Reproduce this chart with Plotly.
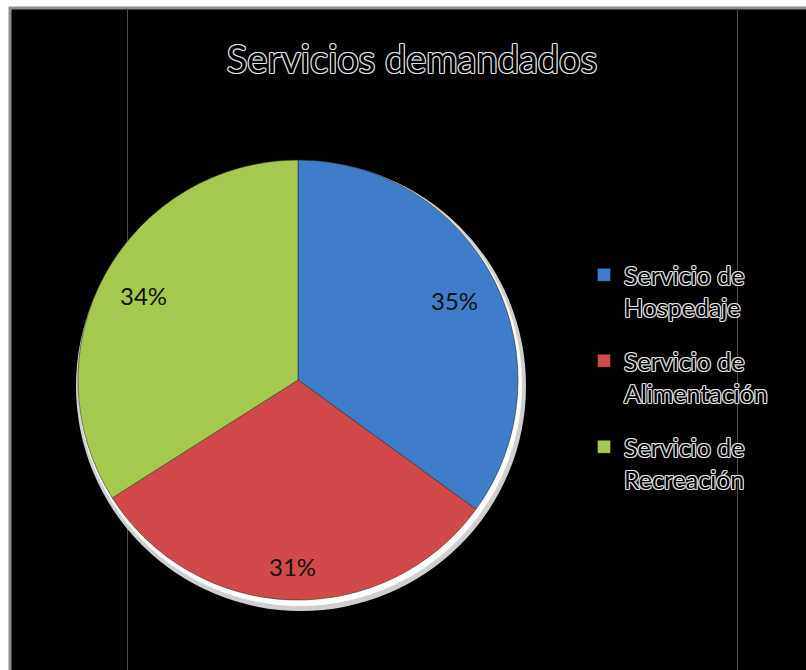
import math
import plotly.graph_objects as go

# Survey shares of requested services
categories = ["Servicio de<br>Hospedaje", "Servicio de<br>Alimentación", "Servicio de<br>Recreación"]
shares = [35, 31, 34]
colors = ["#3f7dca", "#d14a49", "#a5c84f"]

W, H = 806, 670
CX, CY, R = 298, 380, 220      # pie centre and radius in pixels
LABEL_R = [0.80, 0.85, 0.80]   # radial placement of each percentage label


def px(x):
    return x / W


def py(y):
    return 1 - y / H


outline = ("1px 0 0 #e6e6e6, -1px 0 0 #e6e6e6, 0 1px 0 #e6e6e6, 0 -1px 0 #e6e6e6, "
           "1px 1px 0 #bbb, -1px -1px 0 #bbb, 1px -1px 0 #bbb, -1px 1px 0 #bbb")

fig = go.Figure()
fig.add_trace(
    go.Pie(
        labels=categories,
        values=shares,
        sort=False,
        direction="clockwise",
        rotation=0,
        marker=dict(colors=colors, line=dict(color="rgba(40,40,20,0.55)", width=1)),
        textinfo="none",
        domain=dict(x=[px(CX - R), px(CX + R)], y=[py(CY + R), py(CY - R)]),
        hoverinfo="label+percent",
        showlegend=False,
    )
)

# legend entries, one group each so the entries can be spaced apart
for name, col in zip(categories, colors):
    fig.add_trace(
        go.Scatter(
            x=[None], y=[None], mode="markers", name=name, legendgroup=name,
            marker=dict(symbol="square", size=13, color=col,
                        line=dict(color="rgba(0,0,0,0.35)", width=1)),
        )
    )

# percentage labels placed on each slice's bisector
total = sum(shares)
annotations = []
acc = 0
for v, rf in zip(shares, LABEL_R):
    mid = (acc + v / 2) / total * 2 * math.pi
    acc += v
    tx = CX + rf * R * math.sin(mid)
    ty = CY - rf * R * math.cos(mid)
    annotations.append(dict(
        x=px(tx), y=py(ty), xref="paper", yref="paper",
        text=f"{round(v / total * 100)}%", showarrow=False,
        xanchor="center", yanchor="middle",
        font=dict(family="Lato", size=24, color="#111"),
    ))

shapes = [
    # framed dark panel
    dict(type="rect", xref="paper", yref="paper", x0=px(10), x1=px(830), y0=py(700), y1=py(8),
         fillcolor="#000", line=dict(color="#8c8c8c", width=3), layer="below"),
    # faint sheet gridlines
    dict(type="line", xref="paper", yref="paper", x0=px(127.5), x1=px(127.5), y0=py(670), y1=py(10),
         line=dict(color="#4d4d4d", width=1), layer="below"),
    dict(type="line", xref="paper", yref="paper", x0=px(737.5), x1=px(737.5), y0=py(670), y1=py(10),
         line=dict(color="#4d4d4d", width=1), layer="below"),
    # soft white rim behind the pie
    dict(type="circle", xref="paper", yref="paper",
         x0=px(CX + 3 - 225), x1=px(CX + 3 + 225), y0=py(CY + 6 + 225), y1=py(CY + 6 - 225),
         fillcolor="#cfcfcf", line=dict(width=0), layer="below"),
    dict(type="circle", xref="paper", yref="paper",
         x0=px(CX + 2 - 222), x1=px(CX + 2 + 222), y0=py(CY + 4 + 222), y1=py(CY + 4 - 222),
         fillcolor="#ffffff", line=dict(width=0), layer="below"),
]

fig.update_layout(
    width=W,
    height=H,
    margin=dict(l=0, r=0, t=0, b=0),
    paper_bgcolor="#ffffff",
    plot_bgcolor="rgba(0,0,0,0)",
    xaxis=dict(visible=False),
    yaxis=dict(visible=False),
    shapes=shapes,
    annotations=annotations,
    title=dict(
        text="Servicios demandados",
        x=px(412), xanchor="center",
        y=py(60), yanchor="middle",
        font=dict(family="Lato", size=38, color="#000", shadow=outline),
    ),
    legend=dict(
        x=px(584), xanchor="left",
        y=py(252), yanchor="top",
        font=dict(family="Lato", size=25, color="#000", shadow=outline),
        bgcolor="rgba(0,0,0,0)",
        traceorder="grouped",
        tracegroupgap=18,
        valign="top",
    ),
    showlegend=True,
)

fig.write_html("out.html")
